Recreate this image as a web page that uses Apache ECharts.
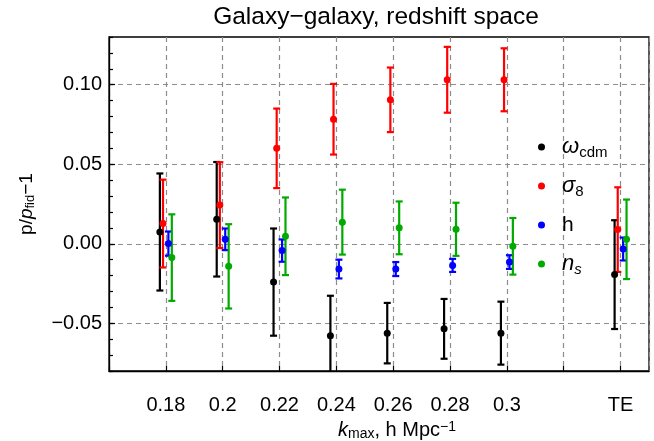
<!DOCTYPE html>
<html>
<head>
<meta charset="utf-8">
<script src="https://cdn.jsdelivr.net/npm/echarts@6/dist/echarts.min.js"></script>
<style>
html,body{margin:0;padding:0;background:#fff;}
#c{width:654px;height:441px;}
</style>
</head>
<body>
<div id="c"></div>
<script>
// ---- data ----
var kPositions = [0.18, 0.20, 0.22, 0.24, 0.26, 0.28, 0.30, 0.34];
var tickValues = [0.18, 0.20, 0.22, 0.24, 0.26, 0.28, 0.30, 0.32, 0.34];
var tickLabels = ['0.18', '0.2', '0.22', '0.24', '0.26', '0.28', '0.3', '', 'TE'];
var yMajorValues = [-0.05, 0, 0.05, 0.10];
var yMajorLabels = ['\u22120.05', '0.00', '0.05', '0.10'];

var omegaVal = [0.0074, 0.0154, -0.0241, -0.0579, -0.0562, -0.0535, -0.0562, -0.0194];
var omegaErr = [0.0368, 0.0360, 0.0337, 0.0252, 0.0190, 0.0188, 0.0198, 0.0342];
var sigmaVal = [0.0127, 0.0243, 0.0600, 0.0783, 0.0905, 0.1031, 0.1031, 0.0089];
var sigmaErr = [0.0276, 0.0270, 0.0250, 0.0222, 0.0203, 0.0207, 0.0198, 0.0266];
var hVal = [0.0001, 0.0028, -0.0043, -0.0159, -0.0159, -0.0136, -0.0115, -0.0033];
var hErr = [0.0076, 0.0068, 0.0070, 0.0059, 0.0044, 0.0041, 0.0043, 0.0072];
var nsVal = [-0.0087, -0.0142, 0.0047, 0.0136, 0.0100, 0.0091, -0.0016, 0.0028];
var nsErr = [0.0272, 0.0265, 0.0244, 0.0204, 0.0166, 0.0167, 0.0178, 0.0250];

var seriesNames = ['omega', 'sigma', 'h', 'ns'];
var seriesColors = ['#000000', '#ff0000', '#0000ff', '#00aa00'];
var seriesOffsets = [-0.0021, -0.0010, 0.0009, 0.0021];
var seriesVals = [omegaVal, sigmaVal, hVal, nsVal];
var seriesErrs = [omegaErr, sigmaErr, hErr, nsErr];

var FONT = 'Liberation Sans';

function fmtX(v) {
  for (var i = 0; i < tickValues.length; i++) {
    if (Math.abs(v - tickValues[i]) < 1e-6) return tickLabels[i];
  }
  return '';
}
function fmtY(v) {
  for (var i = 0; i < yMajorValues.length; i++) {
    if (Math.abs(v - yMajorValues[i]) < 1e-6) return yMajorLabels[i];
  }
  return '';
}

var series = [];
seriesNames.forEach(function (name, s) {
  var pts = [], bars = [];
  kPositions.forEach(function (k, i) {
    var x = k + seriesOffsets[s];
    var y = seriesVals[s][i], e = seriesErrs[s][i];
    pts.push([x, y]);
    bars.push([x, y - e, y + e]);
  });
  series.push({
    type: 'custom',
    name: name + '_err',
    xAxisIndex: 0, yAxisIndex: 0,
    clip: true,
    silent: true,
    data: bars,
    renderItem: function (params, api) {
      var x = api.value(0);
      var lo = api.coord([x, api.value(1)]);
      var hi = api.coord([x, api.value(2)]);
      var cw = 3.5;
      var st = { stroke: seriesColors[s], lineWidth: 2.2, fill: null };
      return {
        type: 'group',
        children: [
          { type: 'line', shape: { x1: lo[0], y1: lo[1], x2: hi[0], y2: hi[1] }, style: st },
          { type: 'line', shape: { x1: lo[0] - cw, y1: lo[1], x2: lo[0] + cw, y2: lo[1] }, style: st },
          { type: 'line', shape: { x1: hi[0] - cw, y1: hi[1], x2: hi[0] + cw, y2: hi[1] }, style: st }
        ]
      };
    },
    z: 3
  });
  series.push({
    type: 'scatter',
    name: name,
    xAxisIndex: 0, yAxisIndex: 0,
    data: pts,
    symbol: 'circle',
    symbolSize: 7,
    itemStyle: { color: seriesColors[s], opacity: 1 },
    z: 4
  });
});

var legendRich = {
  g: { fontFamily: FONT, fontSize: 22, fontStyle: 'italic', color: '#000', padding: [0, 0, 0, 12] },
  n: { fontFamily: FONT, fontSize: 21, color: '#000', padding: [0, 0, 0, 12] },
  sub: { fontFamily: FONT, fontSize: 15, color: '#000', verticalAlign: 'bottom', padding: [8, 0, 0, 0] },
  subi: { fontFamily: FONT, fontSize: 15, fontStyle: 'italic', color: '#000', verticalAlign: 'bottom', padding: [8, 0, 0, 0] }
};
var legendText = {
  omega: '{g|\u03c9}{sub|cdm}',
  sigma: '{g|\u03c3}{sub|8}',
  h: '{n|h}',
  ns: '{g|n}{subi|s}'
};

var option = {
  animation: false,
  backgroundColor: '#fff',
  title: {
    text: 'Galaxy\u2212galaxy, redshift space',
    left: 371, top: 0, textAlign: 'center',
    textStyle: { fontFamily: FONT, fontSize: 24.5, fontWeight: 'normal', color: '#000' }
  },
  legend: {
    orient: 'vertical',
    left: 533, top: 129,
    itemWidth: 7, itemHeight: 7,
    itemGap: 13,
    icon: 'circle',
    data: seriesNames,
    formatter: function (n) { return legendText[n]; },
    textStyle: { rich: legendRich, lineHeight: 26 },
    selectedMode: false
  },
  grid: {
    left: 109, right: 5, top: 37, bottom: 70,
    show: true, borderColor: '#000', borderWidth: 1.3,
    containLabel: false,
    outerBoundsMode: 'none'
  },
  xAxis: {
    type: 'value',
    min: 0.16, max: 0.35, interval: 0.02,
    axisLine: { show: true, onZero: false, lineStyle: { color: '#000', width: 1.3 } },
    axisTick: { show: true, inside: true, length: 5, lineStyle: { color: '#000', width: 1.2 } },
    axisLabel: {
      formatter: fmtX, margin: 24, showMinLabel: true, showMaxLabel: false,
      fontFamily: FONT, fontSize: 20, color: '#000'
    },
    splitLine: { show: true, lineStyle: { color: '#8c8c8c', type: [5, 4], width: 1.2 } },
    name: '{k|k}{sub|max}{n|, h Mpc}{sup|\u22121}',
    nameLocation: 'middle', nameGap: 39,
    nameTextStyle: {
      padding: [0, 0, 0, 36],
      rich: {
        k: { fontFamily: FONT, fontSize: 20, fontStyle: 'italic', color: '#000' },
        n: { fontFamily: FONT, fontSize: 20, color: '#000' },
        sub: { fontFamily: FONT, fontSize: 14, color: '#000', verticalAlign: 'bottom', padding: [7, 0, 0, 0] },
        sup: { fontFamily: FONT, fontSize: 14, color: '#000', verticalAlign: 'top', padding: [0, 0, 7, 0] }
      }
    }
  },
  yAxis: [
    {
      type: 'value',
      min: -0.08, max: 0.13, interval: 0.01,
      axisLine: { show: true, onZero: false, lineStyle: { color: '#000', width: 1.3 } },
      axisTick: { show: true, inside: true, length: 4, lineStyle: { color: '#000', width: 1.2 } },
      axisLabel: { show: false },
      splitLine: { show: false },
      name: '{n|p/}{i|p}{sub|fid}{n|\u22121}',
      nameLocation: 'middle', nameGap: 72, nameRotate: 90,
      nameTextStyle: {
        rich: {
          n: { fontFamily: FONT, fontSize: 19, color: '#000' },
          i: { fontFamily: FONT, fontSize: 19, fontStyle: 'italic', color: '#000' },
          sub: { fontFamily: FONT, fontSize: 13, color: '#000', verticalAlign: 'bottom', padding: [7, 0, 0, 0] }
        }
      }
    },
    {
      type: 'value',
      min: -0.08, max: 0.13,
      position: 'left',
      axisLine: { show: false },
      axisTick: { show: true, inside: true, length: 6, customValues: yMajorValues, lineStyle: { color: '#000', width: 1.2 } },
      axisLabel: {
        customValues: yMajorValues, formatter: fmtY, margin: 7,
        fontFamily: FONT, fontSize: 20, color: '#000'
      },
      splitLine: { show: true, lineStyle: { color: '#8c8c8c', type: [5, 4], width: 1.2 } }
    }
  ],
  series: series
};

var chart = echarts.init(document.getElementById('c'), null, { renderer: 'canvas' });
chart.setOption(option);
</script>
</body>
</html>
